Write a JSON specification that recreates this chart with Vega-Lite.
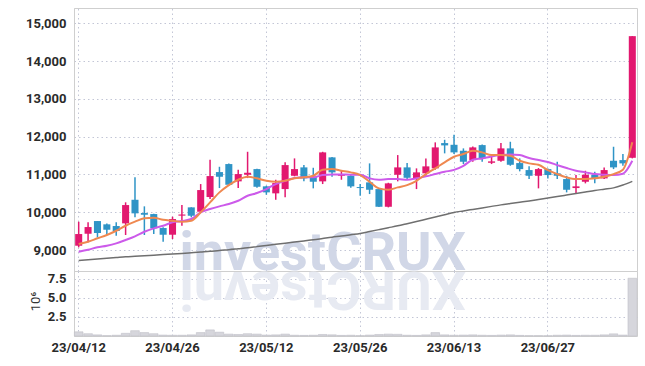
{
  "$schema": "https://vega.github.io/schema/vega-lite/v6.json",
  "padding": {"left": 25, "top": 7, "right": 10, "bottom": 5},
  "spacing": 0,
  "bounds": "flush",
  "datasets": {
    "k": [
      {"d":"23/04/12","o":9114,"h":9749,"l":9071,"c":9423,"v":0.55,"m5":9160,"m20":8955,"m60":8720},
      {"d":"23/04/13","o":9431,"h":9733,"l":9204,"c":9608,"v":0.3,"m5":9220,"m20":9008,"m60":8740},
      {"d":"23/04/14","o":9767,"h":9767,"l":9336,"c":9450,"v":0.15,"m5":9310,"m20":9071,"m60":8760},
      {"d":"23/04/17","o":9680,"h":9700,"l":9397,"c":9537,"v":0.05,"m5":9397,"m20":9114,"m60":8780},
      {"d":"23/04/18","o":9635,"h":9733,"l":9378,"c":9503,"v":0.1,"m5":9510,"m20":9177,"m60":8800},
      {"d":"23/04/19","o":9706,"h":10262,"l":9397,"c":10190,"v":0.35,"m5":9643,"m20":9265,"m60":8820},
      {"d":"23/04/20","o":10330,"h":10923,"l":9865,"c":9971,"v":0.7,"m5":9750,"m20":9362,"m60":8835},
      {"d":"23/04/21","o":9979,"h":10156,"l":9397,"c":9934,"v":0.45,"m5":9838,"m20":9484,"m60":8850},
      {"d":"23/04/24","o":9952,"h":9960,"l":9423,"c":9574,"v":0.3,"m5":9855,"m20":9574,"m60":8865},
      {"d":"23/04/25","o":9582,"h":9600,"l":9220,"c":9405,"v":0.12,"m5":9800,"m20":9643,"m60":8880},
      {"d":"23/04/26","o":9405,"h":9881,"l":9291,"c":9820,"v":0.1,"m5":9775,"m20":9733,"m60":8895},
      {"d":"23/04/27","o":9910,"h":10190,"l":9643,"c":9940,"v":0.1,"m5":9750,"m20":9767,"m60":8910},
      {"d":"23/04/28","o":10129,"h":10130,"l":9865,"c":9907,"v":0.15,"m5":9775,"m20":9820,"m60":8925},
      {"d":"23/05/02","o":10013,"h":10746,"l":9997,"c":10587,"v":0.45,"m5":9997,"m20":9997,"m60":8945},
      {"d":"23/05/03","o":10402,"h":11389,"l":10349,"c":10957,"v":0.8,"m5":10262,"m20":10085,"m60":8965},
      {"d":"23/05/04","o":11063,"h":11203,"l":10640,"c":10939,"v":0.5,"m5":10526,"m20":10156,"m60":8990},
      {"d":"23/05/08","o":11275,"h":11290,"l":10700,"c":10727,"v":0.25,"m5":10719,"m20":10217,"m60":9010},
      {"d":"23/05/09","o":10817,"h":11124,"l":10640,"c":11010,"v":0.2,"m5":10860,"m20":10304,"m60":9035},
      {"d":"23/05/10","o":10992,"h":11600,"l":10904,"c":11045,"v":0.3,"m5":10939,"m20":10436,"m60":9060},
      {"d":"23/05/11","o":11142,"h":11150,"l":10650,"c":10674,"v":0.25,"m5":10897,"m20":10508,"m60":9090},
      {"d":"23/05/12","o":10685,"h":10700,"l":10463,"c":10526,"v":0.12,"m5":10833,"m20":10613,"m60":9120},
      {"d":"23/05/15","o":10500,"h":10860,"l":10330,"c":10772,"v":0.15,"m5":10807,"m20":10746,"m60":9150},
      {"d":"23/05/16","o":10613,"h":11320,"l":10394,"c":11248,"v":0.25,"m5":10833,"m20":10833,"m60":9180},
      {"d":"23/05/17","o":10965,"h":11425,"l":10950,"c":11142,"v":0.1,"m5":10897,"m20":10904,"m60":9210},
      {"d":"23/05/18","o":11187,"h":11248,"l":10817,"c":10896,"v":0.08,"m5":10923,"m20":10923,"m60":9240},
      {"d":"23/05/19","o":10939,"h":11177,"l":10632,"c":10807,"v":0.1,"m5":10965,"m20":10923,"m60":9270},
      {"d":"23/05/22","o":10817,"h":11600,"l":10746,"c":11584,"v":0.2,"m5":11124,"m20":10984,"m60":9305},
      {"d":"23/05/23","o":11452,"h":11460,"l":10939,"c":11055,"v":0.15,"m5":11142,"m20":11002,"m60":9340},
      {"d":"23/05/24","o":10965,"h":11098,"l":10860,"c":11010,"v":0.08,"m5":11098,"m20":11002,"m60":9370},
      {"d":"23/05/25","o":10965,"h":10980,"l":10650,"c":10685,"v":0.1,"m5":11055,"m20":10993,"m60":9405},
      {"d":"23/05/26","o":10666,"h":10746,"l":10436,"c":10640,"v":0.05,"m5":10984,"m20":10992,"m60":9440},
      {"d":"23/05/30","o":10790,"h":11293,"l":10481,"c":10595,"v":0.12,"m5":10807,"m20":10897,"m60":9490},
      {"d":"23/05/31","o":10613,"h":10620,"l":10140,"c":10145,"v":0.2,"m5":10632,"m20":10860,"m60":9540},
      {"d":"23/06/01","o":10145,"h":10780,"l":10129,"c":10764,"v":0.25,"m5":10595,"m20":10878,"m60":9590},
      {"d":"23/06/02","o":10992,"h":11513,"l":10817,"c":11187,"v":0.22,"m5":10658,"m20":10878,"m60":9640},
      {"d":"23/06/05","o":11187,"h":11301,"l":10880,"c":10912,"v":0.1,"m5":10719,"m20":10860,"m60":9697},
      {"d":"23/06/07","o":10904,"h":11161,"l":10613,"c":11055,"v":0.08,"m5":10833,"m20":10897,"m60":9755},
      {"d":"23/06/08","o":11029,"h":11425,"l":10965,"c":11214,"v":0.15,"m5":11010,"m20":10949,"m60":9815},
      {"d":"23/06/09","o":11161,"h":11849,"l":11124,"c":11716,"v":0.45,"m5":11161,"m20":11010,"m60":9875},
      {"d":"23/06/12","o":11830,"h":11918,"l":11558,"c":11769,"v":0.15,"m5":11320,"m20":11071,"m60":9935},
      {"d":"23/06/13","o":11785,"h":12050,"l":11539,"c":11584,"v":0.1,"m5":11468,"m20":11120,"m60":9994},
      {"d":"23/06/14","o":11627,"h":11690,"l":11275,"c":11336,"v":0.12,"m5":11540,"m20":11230,"m60":10035},
      {"d":"23/06/15","o":11380,"h":11740,"l":11336,"c":11716,"v":0.15,"m5":11627,"m20":11388,"m60":10075},
      {"d":"23/06/16","o":11777,"h":11790,"l":11336,"c":11425,"v":0.1,"m5":11584,"m20":11425,"m60":10115},
      {"d":"23/06/19","o":11309,"h":11478,"l":11275,"c":11346,"v":0.08,"m5":11513,"m20":11478,"m60":10155},
      {"d":"23/06/20","o":11362,"h":11830,"l":11336,"c":11690,"v":0.12,"m5":11513,"m20":11513,"m60":10195},
      {"d":"23/06/21","o":11690,"h":11865,"l":11230,"c":11256,"v":0.15,"m5":11494,"m20":11531,"m60":10230},
      {"d":"23/06/22","o":11301,"h":11425,"l":11082,"c":11142,"v":0.08,"m5":11362,"m20":11513,"m60":10265},
      {"d":"23/06/23","o":11116,"h":11214,"l":10878,"c":10965,"v":0.05,"m5":11293,"m20":11433,"m60":10300},
      {"d":"23/06/26","o":10965,"h":11170,"l":10632,"c":11142,"v":0.05,"m5":11256,"m20":11380,"m60":10338},
      {"d":"23/06/27","o":11142,"h":11160,"l":10896,"c":10984,"v":0.04,"m5":11116,"m20":11330,"m60":10376},
      {"d":"23/06/28","o":11029,"h":11336,"l":10878,"c":10965,"v":0.1,"m5":11010,"m20":11248,"m60":10415},
      {"d":"23/06/29","o":10878,"h":10965,"l":10526,"c":10595,"v":0.12,"m5":10923,"m20":11169,"m60":10455},
      {"d":"23/06/30","o":10640,"h":10984,"l":10481,"c":10685,"v":0.08,"m5":10878,"m20":11098,"m60":10495},
      {"d":"23/07/03","o":10807,"h":11098,"l":10764,"c":10992,"v":0.1,"m5":10878,"m20":11055,"m60":10535},
      {"d":"23/07/04","o":10992,"h":11070,"l":10764,"c":10878,"v":0.1,"m5":10897,"m20":11010,"m60":10575},
      {"d":"23/07/05","o":10896,"h":11187,"l":10878,"c":11116,"v":0.15,"m5":10939,"m20":10992,"m60":10610},
      {"d":"23/07/06","o":11362,"h":11733,"l":11142,"c":11187,"v":0.28,"m5":11010,"m20":10984,"m60":10645},
      {"d":"23/07/07","o":11380,"h":11539,"l":11230,"c":11293,"v":0.12,"m5":11124,"m20":11020,"m60":10720},
      {"d":"23/07/10","o":11441,"h":14660,"l":11425,"c":14660,"v":7.6,"m5":11849,"m20":11362,"m60":10817}
    ]
  },
  "resolve": {"scale": {"x": "independent"}},
  "vconcat": [
    {
      "width": 563,
      "height": 263,
      "encoding": {
        "x": {
          "field": "d", "type": "ordinal", "bandPosition": 0.5,
          "scale": {"paddingInner": 0.25, "paddingOuter": 0.125},
          "axis": {"orient": "top", "title": null, "labels": false, "ticks": false, "domain": false, "grid": true, "bandPosition": 0.5,
                   "values": ["23/04/12","23/04/26","23/05/12","23/05/26","23/06/13","23/06/27"]}
        }
      },
      "layer": [
        {
          "data": {"values": [{"d": "23/05/22", "p": 8462, "t": "investCRUX"}]},
          "mark": {"type": "text", "font": "Roboto", "fontWeight": "bold", "fontSize": 54, "color": "#d1d7e7", "align": "center", "baseline": "alphabetic"},
          "encoding": {
            "y": {"field": "p", "type": "quantitative", "scale": {"domain": [8445, 15405], "nice": false, "zero": false}},
            "text": {"field": "t"}
          }
        },
        {
          "data": {"name": "k"},
          "mark": {"type": "rule", "strokeWidth": 1.5},
          "encoding": {
            "y": {"field": "l", "type": "quantitative", "scale": {"domain": [8445, 15405], "nice": false, "zero": false},
                  "axis": {"title": null, "values": [9000,10000,11000,12000,13000,14000,15000], "format": ",d", "grid": true, "ticks": false, "domainColor": "#cfcfcf"}},
            "y2": {"field": "h"},
            "color": {"condition": {"test": "datum.c > datum.o", "value": "#e2186f"}, "value": "#2f94c6"}
          }
        },
        {
          "data": {"name": "k"},
          "mark": {"type": "bar"},
          "encoding": {
            "y": {"field": "o", "type": "quantitative"},
            "y2": {"field": "c"},
            "color": {"condition": {"test": "datum.c > datum.o", "value": "#e2186f"}, "value": "#2f94c6"}
          }
        },
        {
          "data": {"name": "k"},
          "mark": {"type": "line", "color": "#6f6f6f", "strokeWidth": 1.5, "interpolate": "monotone"},
          "encoding": {"y": {"field": "m60", "type": "quantitative"}}
        },
        {
          "data": {"name": "k"},
          "mark": {"type": "line", "color": "#cc5aea", "strokeWidth": 2, "interpolate": "monotone"},
          "encoding": {"y": {"field": "m20", "type": "quantitative"}}
        },
        {
          "data": {"name": "k"},
          "mark": {"type": "line", "color": "#ef8850", "strokeWidth": 2, "interpolate": "monotone"},
          "encoding": {"y": {"field": "m5", "type": "quantitative"}}
        }
      ]
    },
    {
      "width": 563,
      "height": 65,
      "encoding": {
        "x": {
          "field": "d", "type": "ordinal", "bandPosition": 0.5,
          "scale": {"paddingInner": 0.08, "paddingOuter": 0.04},
          "axis": {"title": null, "ticks": false, "domain": false, "grid": true, "bandPosition": 0.5, "labelAngle": 0, "labelPadding": 5,
                   "values": ["23/04/12","23/04/26","23/05/12","23/05/26","23/06/13","23/06/27"]}
        },
        "y": {
          "field": "v", "type": "quantitative", "scale": {"domain": [0, 8.55], "nice": false},
          "axis": {"title": "10⁶", "titleFont": "Roboto", "titleFontSize": 13, "titleFontWeight": "normal", "titleColor": "#333", "titlePadding": 5,
                   "titleAnchor": "middle", "titleY": 30,
                   "values": [2.5, 5.0, 7.5], "labelExpr": "format(datum.value, '.1f')", "grid": true, "ticks": false, "labelOverlap": false, "labelBound": false, "labelFlush": false, "domainColor": "#cfcfcf"}
        }
      },
      "layer": [
        {
          "data": {"values": [{"d": "23/05/22", "v": 8.45, "t": "XURCtsevni"}]},
          "mark": {"type": "text", "font": "Roboto", "fontWeight": "bold", "fontSize": 54, "color": "#e7eaf2", "align": "center", "baseline": "alphabetic", "angle": 180},
          "encoding": {"text": {"field": "t"}}
        },
        {
          "data": {"name": "k"},
          "mark": {"type": "bar", "color": "#d6d6dc", "stroke": "#bfbfc7", "strokeWidth": 0.6}
        }
      ]
    }
  ],
  "config": {
    "view": {"stroke": "#cfcfcf"},
    "axis": {
      "labelFont": "Roboto", "labelFontSize": 13, "labelFontWeight": "bold", "labelColor": "#2a2a2a",
      "labelPadding": 8, "gridColor": "#c3c6d6", "gridDash": [1.5, 3], "gridWidth": 1
    }
  }
}
